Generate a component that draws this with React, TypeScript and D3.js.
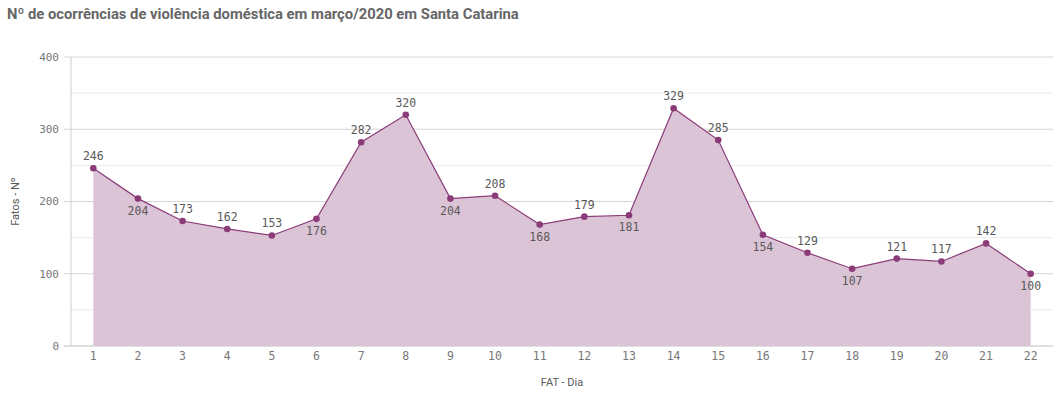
import React from "react";
import * as d3 from "d3";

const days = ["1","2","3","4","5","6","7","8","9","10","11","12","13","14","15","16","17","18","19","20","21","22"];
const counts = [246,204,173,162,153,176,282,320,204,208,168,179,181,329,285,154,129,107,121,117,142,100];
// days whose value label sits under the point
const labelBelow = ["2","6","9","11","13","16","18","22"];
const yTicks = [0,100,200,300,400];
const yMinor = [50,150,250,350];

const W = 1064, H = 393;
const mono = "'DejaVu Sans Mono', monospace";

export default function App() {
  const x = d3.scaleBand().domain(days).range([71, 1053]);
  const y = d3.scaleLinear().domain([0, 400]).range([346, 57]);
  const cx = (d: string) => (x(d) as number) + x.bandwidth() / 2;

  const pts = days.map((d, i) => ({ d, v: counts[i] }));
  const line = d3.line<{ d: string; v: number }>().x(p => cx(p.d)).y(p => y(p.v));
  const area = d3.area<{ d: string; v: number }>().x(p => cx(p.d)).y0(y(0)).y1(p => y(p.v));

  return (
    <svg width={W} height={H} style={{ position: "absolute", left: 0, top: 0 }}>
      <text x={7} y={19} fontFamily="Roboto, sans-serif" fontWeight="bold" fontSize={14.8} fill="#666">
        Nº de ocorrências de violência doméstica em março/2020 em Santa Catarina
      </text>

      {yMinor.map(t => (
        <line key={"m" + t} x1={71} x2={1053} y1={y(t)} y2={y(t)} stroke="#ebebeb" />
      ))}
      {yTicks.map(t => (
        <g key={t}>
          <line x1={64} x2={1053} y1={y(t)} y2={y(t)} stroke={t === 0 ? "#bfbfbf" : "#d6d6d6"} />
          <text x={59} y={y(t)} dy="0.35em" textAnchor="end" fontFamily={mono} fontSize={11} fill="#777">{t}</text>
        </g>
      ))}
      <line x1={71} x2={71} y1={y(400)} y2={y(0)} stroke="#cfcfcf" />

      <path d={area(pts) || ""} fill="#dcc4d7" />
      <path d={line(pts) || ""} fill="none" stroke="#8a3b78" strokeWidth={1.2} />
      {pts.map(p => (
        <circle key={p.d} cx={cx(p.d)} cy={y(p.v)} r={3.3} fill="#8a3b78" />
      ))}
      {pts.map(p => {
        const below = labelBelow.includes(p.d);
        return (
          <text key={"l" + p.d} x={cx(p.d)} y={y(p.v) + (below ? 16 : -8)} textAnchor="middle"
            fontFamily={mono} fontSize={11.5} fill="#595959">{p.v}</text>
        );
      })}

      {days.map(d => (
        <text key={"x" + d} x={cx(d)} y={360} textAnchor="middle" fontFamily={mono} fontSize={11.5} fill="#777">{d}</text>
      ))}

      <text x={562} y={386} textAnchor="middle" fontFamily="Roboto, sans-serif" fontSize={11} fill="#595959">FAT - Dia</text>
      <text transform={`translate(19,${y(200)}) rotate(-90)`} textAnchor="middle" fontFamily="Roboto, sans-serif" fontSize={11} fill="#595959">Fatos - Nº</text>
    </svg>
  );
}
